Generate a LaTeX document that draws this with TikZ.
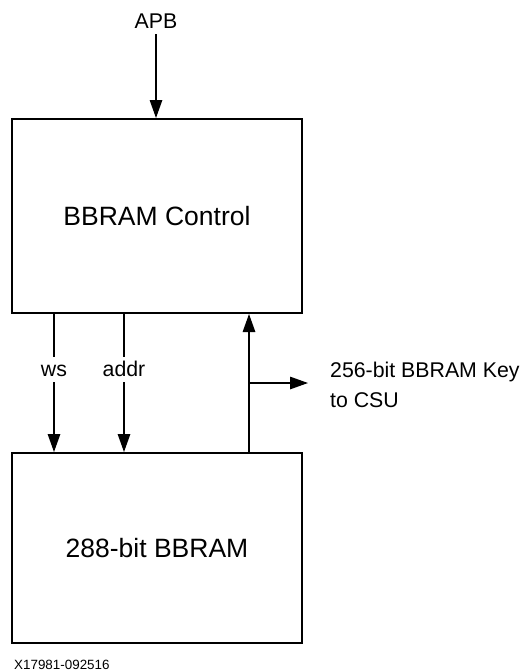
\documentclass[tikz,border=0pt]{standalone}
\usepackage{fontspec}
\setmainfont{Liberation Sans}
\usetikzlibrary{arrows.meta}
\begin{document}
\begin{tikzpicture}[x=1pt,y=1pt,
  box/.style={draw, line width=2pt, minimum width=290pt, font=\fontsize{26.5}{30}\selectfont},
  arr/.style={line width=1.3pt, -{Triangle[length=18pt,width=12.5pt]}},
  lbl/.style={fill=white, inner sep=5pt, text height=15pt, text depth=0pt, font=\fontsize{21.3}{25}\selectfont},
  txt/.style={inner sep=0pt, font=\fontsize{21.3}{25}\selectfont},
  foot/.style={inner sep=0pt, font=\fontsize{13.4}{16}\selectfont}]
\useasboundingbox (0,0) rectangle (522,-672);
\node[box, minimum height=194pt] (ctrl) at (157,-216) {BBRAM Control};
\node[box, minimum height=190pt] (mem) at (157,-548) {288-bit BBRAM};
\node[txt, anchor=base] (apb) at (156,-28) {APB};
\coordinate (apbx) at (156,-34);
\coordinate (wsx) at (54,0);
\coordinate (addrx) at (124,0);
\coordinate (upx) at (249,0);
\coordinate (brk) at (249,-383);
\coordinate (keyend) at (308,-383);
\draw[arr] (apbx) -- (apbx |- ctrl.north);
\draw[arr] (ctrl.south -| wsx) -- node[lbl, pos=0.4] {ws} (mem.north -| wsx);
\draw[arr] (ctrl.south -| addrx) -- node[lbl, pos=0.4] {addr} (mem.north -| addrx);
\draw[arr] (mem.north -| upx) -- (ctrl.south -| upx);
\draw[arr] (brk) -- (keyend);
\node[txt, anchor=base west] (key1) at (330,-377) {256-bit BBRAM Key};
\node[txt, anchor=base west] (key2) at (330,-407) {to CSU};
\node[foot, anchor=base west] (fig) at (14,-669) {X17981-092516};
\end{tikzpicture}
\end{document}
